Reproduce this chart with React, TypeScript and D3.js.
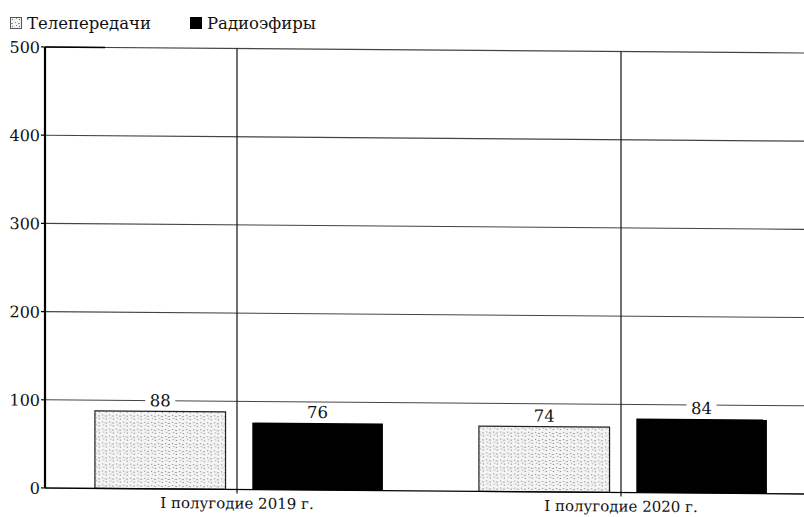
import React from 'react'
import * as d3 from 'd3'

const categories = ['I полугодие 2019 г.', 'I полугодие 2020 г.']
const seriesNames = ['Телепередачи', 'Радиоэфиры']
const tvValues = [88, 74]
const radioValues = [76, 84]
const yTicks = [0, 100, 200, 300, 400, 500]

const width = 804
const height = 517
const margin = { top: 47, right: -9, bottom: 29, left: 45 }
const font = "'DejaVu Serif', serif"

const App = () => {
  const x0 = d3
    .scaleBand()
    .domain(categories)
    .range([margin.left, width - margin.right])
    .padding(0)

  const x1 = d3
    .scaleBand()
    .domain(seriesNames)
    .range([x0.bandwidth() * 0.13, x0.bandwidth() * 0.88])
    .paddingInner(0.17)

  const y = d3
    .scaleLinear()
    .domain([0, 500])
    .range([height - margin.bottom, margin.top])

  const rows = categories.map((c, i) => ({
    category: c,
    values: [
      { name: seriesNames[0], value: tvValues[i] },
      { name: seriesNames[1], value: radioValues[i] }
    ]
  }))

  // the scan is slightly skewed: horizontals drop towards the right
  const skew = `translate(${margin.left},0) skewY(0.45) translate(${-margin.left},0)`
  const x0c = (c: string) => (x0(c) as number) + x0.bandwidth() / 2
  const txt = { fontFamily: font, fill: '#111' }

  return (
    <svg width={width} height={height} style={{ display: 'block', position: 'absolute', left: 0, top: 0 }}>
      <defs>
        <pattern id="dots" width="7" height="7" patternUnits="userSpaceOnUse">
          <rect width="7" height="7" fill="#f4f4f4" />
          <rect x="1" y="1" width="1" height="1" fill="#777" />
          <rect x="4" y="2" width="2" height="1" fill="#999" />
          <rect x="2" y="4" width="1" height="1" fill="#888" />
          <rect x="5" y="5" width="1" height="1" fill="#666" />
        </pattern>
      </defs>

      {/* legend */}
      <g style={{ ...txt, fontSize: 16.5 }}>
        <rect x={10.5} y={17.5} width={11} height={11} fill="url(#dots)" stroke="#555" />
        <text x={27} y={29}>{seriesNames[0]}</text>
        <rect x={190} y={17} width={12} height={12} fill="#000" />
        <text x={207} y={29}>{seriesNames[1]}</text>
      </g>

      <g transform={skew}>
        {/* horizontal grid */}
        {yTicks.filter(t => t > 0).map(t => (
          <line key={t} x1={margin.left} x2={width + 10} y1={y(t)} y2={y(t)} stroke="#444" strokeWidth={1.1} />
        ))}

        {/* vertical lines at category centres */}
        {categories.map(c => (
          <line key={c} x1={x0c(c)} x2={x0c(c)} y1={y(500)} y2={y(0) + 4} stroke="#111" strokeWidth={1.2} />
        ))}

        {/* bars */}
        {rows.map(r => (
          <g key={r.category} transform={`translate(${x0(r.category)},0)`}>
            {r.values.map((d, j) => (
              <rect
                key={d.name}
                x={x1(d.name)}
                y={y(d.value)}
                width={x1.bandwidth()}
                height={y(0) - y(d.value)}
                fill={j === 0 ? 'url(#dots)' : '#000'}
                stroke={j === 0 ? '#222' : 'none'}
                strokeWidth={1.2}
              />
            ))}
          </g>
        ))}

        {/* value labels with white backing over grid */}
        {rows.map(r => (
          <g key={r.category} transform={`translate(${x0(r.category)},0)`}>
            {r.values.map(d => {
              const cx = (x1(d.name) as number) + x1.bandwidth() / 2
              return (
                <g key={d.name}>
                  <rect x={cx - 15} y={y(d.value) - 19} width={30} height={15} fill="#fff" />
                  <text x={cx} y={y(d.value) - 5} textAnchor="middle" style={{ ...txt, fontSize: 16.5 }}>
                    {d.value}
                  </text>
                </g>
              )
            })}
          </g>
        ))}

        {/* axes */}
        <line x1={margin.left} x2={margin.left} y1={y(500)} y2={y(0)} stroke="#000" strokeWidth={2.2} />
        <line x1={margin.left} x2={width + 10} y1={y(0)} y2={y(0)} stroke="#000" strokeWidth={1.4} />
        <line x1={margin.left} x2={margin.left + 60} y1={y(500)} y2={y(500)} stroke="#000" strokeWidth={1.4} />

        {yTicks.map(t => (
          <g key={t}>
            <line x1={margin.left - 4} x2={margin.left} y1={y(t)} y2={y(t)} stroke="#000" strokeWidth={1.2} />
            <text x={margin.left - 5} y={y(t) + 6} textAnchor="end" style={{ ...txt, fontSize: 16 }}>
              {t}
            </text>
          </g>
        ))}

        {categories.map(c => (
          <text key={c} x={x0c(c)} y={y(0) + 19} textAnchor="middle" style={{ ...txt, fontSize: 15 }}>
            {c}
          </text>
        ))}
      </g>
    </svg>
  )
}

export default App
